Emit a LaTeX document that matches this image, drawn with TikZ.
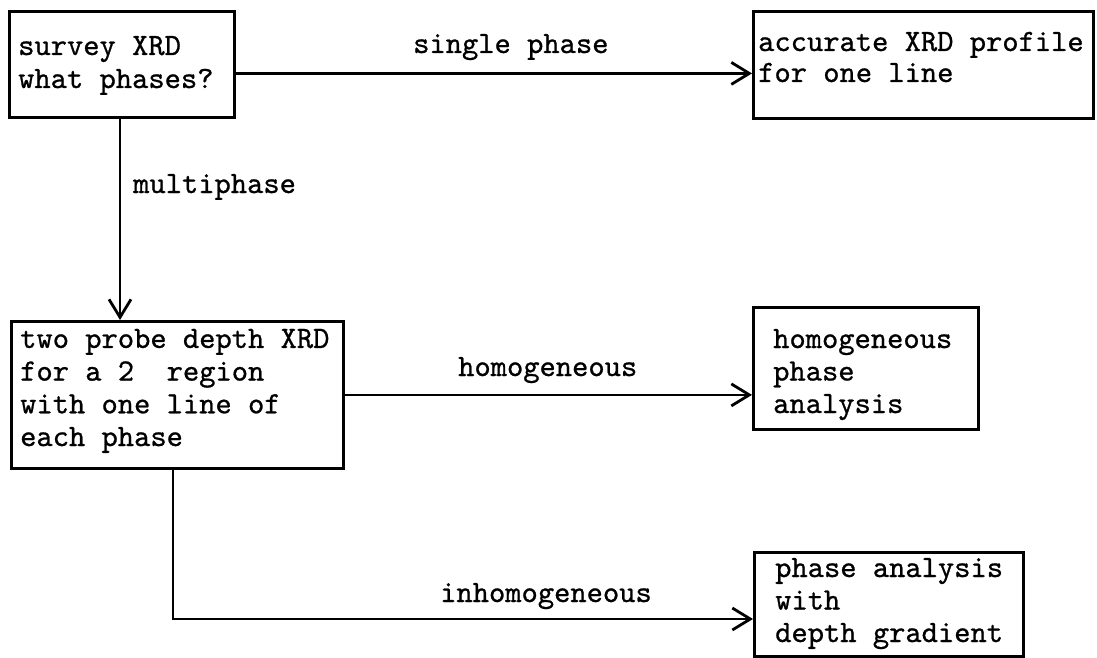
\documentclass[tikz,border=0pt]{standalone}
\usepackage{fontspec}
\newfontfamily\tw{lmmono10-regular.otf}[FakeBold=0.8]
\usetikzlibrary{arrows.meta}
\begin{document}
\begin{tikzpicture}[x=1pt,y=-1pt,
  box/.style={draw, line width=2.8pt, rectangle, inner sep=0pt, anchor=north west},
  txt/.style={anchor=base west, inner sep=0pt, align=left,
    font=\tw\fontsize{31}{33}\selectfont},
  lbl/.style={anchor=base west, inner sep=0pt,
    font=\tw\fontsize{31}{33}\selectfont},
  flow/.style={line width=2.8pt, -{Straight Barb[length=18pt,width=22pt,line width=2.8pt]}},
  line join=miter]
\useasboundingbox (0,0) rectangle (1097,658);

% boxes
\node[box, minimum width=225pt, minimum height=106pt] (survey) at (8,10) {};
\node[box, minimum width=340pt, minimum height=107pt] (accurate) at (752,10) {};
\node[box, minimum width=332pt, minimum height=147pt] (probe) at (10,320) {};
\node[box, minimum width=225pt, minimum height=122pt] (homog) at (752,306) {};
\node[box, minimum width=269pt, minimum height=104pt] (inhomog) at (753,551) {};

% box texts (anchored on the baseline of their last line)
\node[txt] (tsurvey) at (18,88) {survey XRD\\what phases?};
\node[txt, font=\tw\fontsize{31}{31}\selectfont] (taccurate) at (758,82) {accurate XRD profile\\for one line};
\node[txt, font=\tw\fontsize{31}{32.7}\selectfont] (tprobe) at (20,446) {two probe depth XRD\\for a 2\ \ region\\with one line of\\each phase};
\node[txt, font=\tw\fontsize{31}{32.5}\selectfont] (thomog) at (773,413) {homogeneous\\phase\\analysis};
\node[txt, font=\tw\fontsize{31}{32.5}\selectfont] (tinhomog) at (775,642) {phase analysis\\with\\depth gradient};

% connectors
\draw[flow] ([yshift=-9pt]survey.east) -- ([yshift=-9pt]survey.east -| accurate.west);
\node[lbl] (lsingle) at (413,53) {single phase};

\draw[flow] (survey.south -| 120,0) -- (probe.north -| 120,0);
\node[lbl] (lmulti) at (133,193) {multiphase};

\draw[flow] (probe.east) -- (probe.east -| homog.west);
\node[lbl] (lhomog) at (458,376) {homogeneous};

\coordinate (bend) at (173,619);
\draw[flow] (probe.south -| bend) -- (bend) -- (bend -| inhomog.west);
\node[lbl] (linhomog) at (440,602) {inhomogeneous};
\end{tikzpicture}
\end{document}
